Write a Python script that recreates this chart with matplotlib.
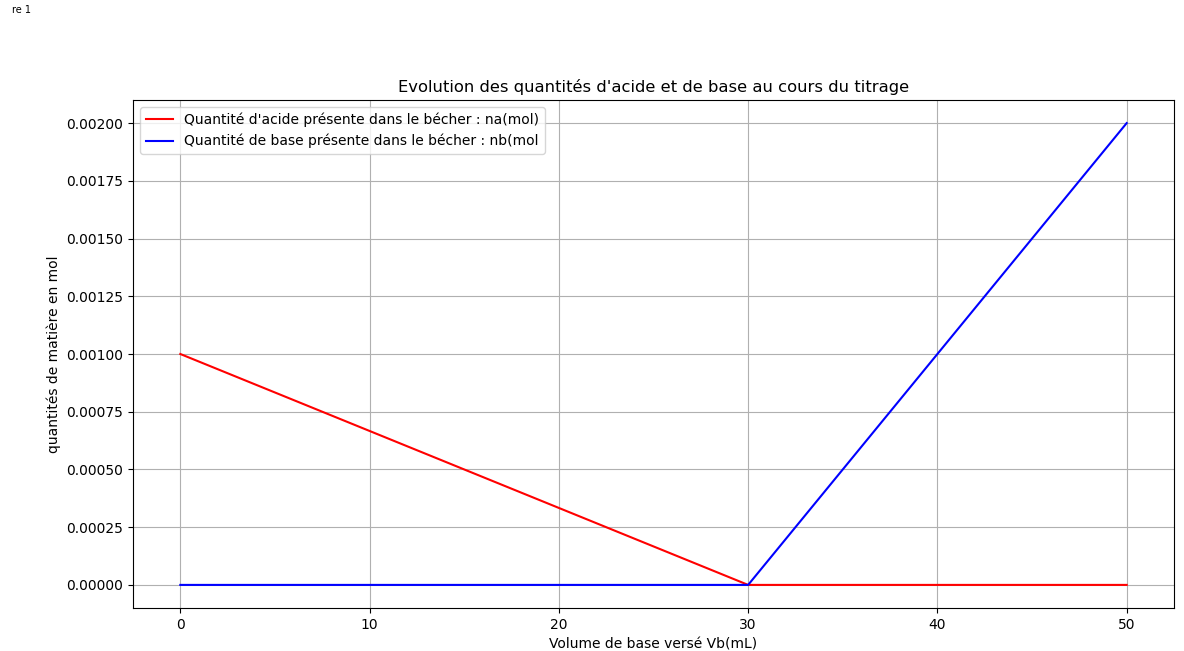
import matplotlib
matplotlib.use("Agg")
import matplotlib.pyplot as plt

# Volume of base added (mL) at the break points of each curve
vb = [0, 30, 50]
# Amount of acid left in the beaker (mol)
na = [0.001, 0.0, 0.0]
# Amount of base present in the beaker (mol)
nb = [0.0, 0.0, 0.002]

x_ticks = [0, 10, 20, 30, 40, 50]
y_ticks = [0.0, 0.00025, 0.0005, 0.00075, 0.001, 0.00125, 0.0015, 0.00175, 0.002]

fig = plt.figure(figsize=(11.84, 6.51), dpi=100)
ax = fig.add_axes([133 / 1184, 1 - 608 / 651, (1174 - 133) / 1184, (608 - 100) / 651])

ax.plot(vb, na, color="red", label="Quantité d'acide présente dans le bécher : na(mol)")
ax.plot(vb, nb, color="blue", label="Quantité de base présente dans le bécher : nb(mol")

ax.set_xticks(x_ticks)
ax.set_yticks(y_ticks)
ax.set_yticklabels([f"{v:.5f}" for v in y_ticks])
ax.grid(True)
ax.set_title("Evolution des quantités d'acide et de base au cours du titrage", fontsize=11.8)
ax.set_xlabel("Volume de base versé Vb(mL)")
ax.set_ylabel("quantités de matière en mol")
ax.legend(loc="upper left")

fig.text(12 / 1184, 1 - 10 / 651, "re 1", fontsize=7, va="center", ha="left")

fig.savefig("out.png", dpi=100)
